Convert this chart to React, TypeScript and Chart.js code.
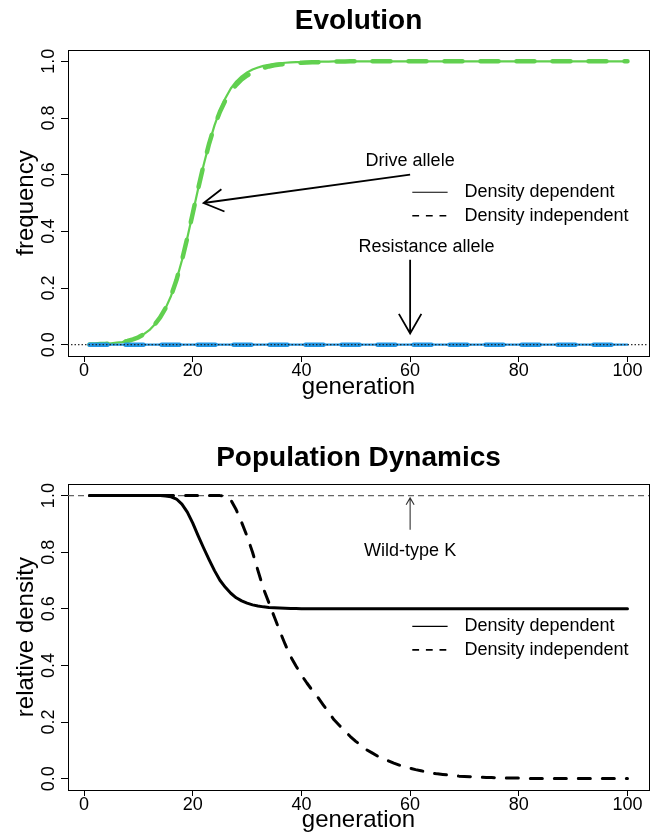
import { useEffect, useRef } from "react";
import { Chart, registerables } from "chart.js";

Chart.register(...registerables);

const FONT = "'Liberation Sans', Arial, Helvetica, sans-serif";
const GREEN = "#61D04F";
const BLUE = "#2297E6";

// Simulated generations
const generations = [
  1, 2, 3, 4, 5, 6, 7, 8, 9, 10, 11, 12, 13, 14, 15, 16, 17, 18, 19, 20,
  21, 22, 23, 24, 25, 26, 27, 28, 29, 30, 31, 32, 33, 34, 35, 36, 37, 38, 39, 40,
  41, 42, 43, 44, 45, 46, 47, 48, 49, 50, 51, 52, 53, 54, 55, 56, 57, 58, 59, 60,
  61, 62, 63, 64, 65, 66, 67, 68, 69, 70, 71, 72, 73, 74, 75, 76, 77, 78, 79, 80,
  81, 82, 83, 84, 85, 86, 87, 88, 89, 90, 91, 92, 93, 94, 95, 96, 97, 98, 99, 100,
];

// Drive allele frequency
const driveDensityDependent = [
  0.001, 0.001, 0.002, 0.003, 0.005, 0.007, 0.009, 0.013, 0.019, 0.026,
  0.037, 0.051, 0.071, 0.096, 0.129, 0.172, 0.228, 0.297, 0.377, 0.464,
  0.551, 0.634, 0.709, 0.774, 0.827, 0.87, 0.904, 0.929, 0.947, 0.961,
  0.971, 0.978, 0.984, 0.988, 0.991, 0.993, 0.995, 0.996, 0.997, 0.997,
  0.998, 0.998, 0.999, 0.999, 0.999, 1, 1, 1, 1, 1,
  1, 1, 1, 1, 1, 1, 1, 1, 1, 1,
  1, 1, 1, 1, 1, 1, 1, 1, 1, 1,
  1, 1, 1, 1, 1, 1, 1, 1, 1, 1,
  1, 1, 1, 1, 1, 1, 1, 1, 1, 1,
  1, 1, 1, 1, 1, 1, 1, 1, 1, 1,
];
const driveDensityIndependent = [
  0.001, 0.001, 0.002, 0.003, 0.005, 0.007, 0.009, 0.013, 0.019, 0.026,
  0.037, 0.051, 0.071, 0.096, 0.129, 0.172, 0.228, 0.297, 0.377, 0.464,
  0.551, 0.634, 0.709, 0.772, 0.822, 0.862, 0.893, 0.917, 0.936, 0.95,
  0.961, 0.97, 0.977, 0.982, 0.986, 0.989, 0.991, 0.993, 0.994, 0.995,
  0.996, 0.997, 0.997, 0.998, 0.998, 0.999, 0.999, 0.999, 1, 1,
  1, 1, 1, 1, 1, 1, 1, 1, 1, 1,
  1, 1, 1, 1, 1, 1, 1, 1, 1, 1,
  1, 1, 1, 1, 1, 1, 1, 1, 1, 1,
  1, 1, 1, 1, 1, 1, 1, 1, 1, 1,
  1, 1, 1, 1, 1, 1, 1, 1, 1, 1,
];

// Resistance allele frequency
const resistDensityDependent = [
  0, 0, 0, 0, 0, 0, 0, 0, 0, 0, 0, 0, 0, 0, 0, 0, 0, 0, 0, 0,
  0, 0, 0, 0, 0, 0, 0, 0, 0, 0, 0, 0, 0, 0, 0, 0, 0, 0, 0, 0,
  0, 0, 0, 0, 0, 0, 0, 0, 0, 0, 0, 0, 0, 0, 0, 0, 0, 0, 0, 0,
  0, 0, 0, 0, 0, 0, 0, 0, 0, 0, 0, 0, 0, 0, 0, 0, 0, 0, 0, 0,
  0, 0, 0, 0, 0, 0, 0, 0, 0, 0, 0, 0, 0, 0, 0, 0, 0, 0, 0, 0,
];
const resistDensityIndependent = [
  0, 0, 0, 0, 0, 0, 0, 0, 0, 0, 0, 0, 0, 0, 0, 0, 0, 0, 0, 0,
  0, 0, 0, 0, 0, 0, 0, 0, 0, 0, 0, 0, 0, 0, 0, 0, 0, 0, 0, 0,
  0, 0, 0, 0, 0, 0, 0, 0, 0, 0, 0, 0, 0, 0, 0, 0, 0, 0, 0, 0,
  0, 0, 0, 0, 0, 0, 0, 0, 0, 0, 0, 0, 0, 0, 0, 0, 0, 0, 0, 0,
  0, 0, 0, 0, 0, 0, 0, 0, 0, 0, 0, 0, 0, 0, 0, 0, 0, 0, 0, 0,
];

// Relative population density
const popDensityDependent = [
  1, 1, 1, 1, 1, 1, 1, 1, 1, 1,
  1, 1, 1, 1, 0.999, 0.996, 0.988, 0.97, 0.942, 0.903,
  0.858, 0.815, 0.774, 0.735, 0.701, 0.676, 0.655, 0.639, 0.628, 0.62,
  0.614, 0.61, 0.607, 0.605, 0.604, 0.603, 0.602, 0.601, 0.601, 0.6,
  0.6, 0.6, 0.6, 0.6, 0.6, 0.6, 0.6, 0.6, 0.6, 0.6,
  0.6, 0.6, 0.6, 0.6, 0.6, 0.6, 0.6, 0.6, 0.6, 0.6,
  0.6, 0.6, 0.6, 0.6, 0.6, 0.6, 0.6, 0.6, 0.6, 0.6,
  0.6, 0.6, 0.6, 0.6, 0.6, 0.6, 0.6, 0.6, 0.6, 0.6,
  0.6, 0.6, 0.6, 0.6, 0.6, 0.6, 0.6, 0.6, 0.6, 0.6,
  0.6, 0.6, 0.6, 0.6, 0.6, 0.6, 0.6, 0.6, 0.6, 0.6,
];
const popDensityIndependent = [
  1, 1, 1, 1, 1, 1, 1, 1, 1, 1,
  1, 1, 1, 1, 1, 1, 1, 1, 1, 1,
  1, 1, 1, 1, 1, 0.998, 0.985, 0.95, 0.905, 0.856,
  0.8, 0.735, 0.672, 0.622, 0.572, 0.522, 0.475, 0.432, 0.398, 0.366,
  0.338, 0.312, 0.288, 0.261, 0.234, 0.208, 0.188, 0.168, 0.149, 0.132,
  0.117, 0.102, 0.091, 0.08, 0.071, 0.063, 0.055, 0.048, 0.042, 0.037,
  0.032, 0.028, 0.024, 0.02, 0.017, 0.015, 0.013, 0.011, 0.009, 0.008,
  0.007, 0.006, 0.005, 0.004, 0.004, 0.003, 0.003, 0.002, 0.002, 0.002,
  0.001, 0.001, 0.001, 0.001, 0.001, 0.001, 0.001, 0.001, 0.001, 0.001,
  0.0005, 0.0005, 0.0005, 0.0005, 0.0005, 0.0005, 0.0005, 0.0005, 0.0005, 0.0005,
];

const xTicks = [0, 20, 40, 60, 80, 100];
const yTicks = [0, 0.2, 0.4, 0.6, 0.8, 1.0];
const yTickLabels = ["0.0", "0.2", "0.4", "0.6", "0.8", "1.0"];
const legendLabels = ["Density dependent", "Density independent"];

const toXY = (ys: number[]) => generations.map((g, i) => ({ x: g, y: ys[i] }));

function xScale(axisHeight: number, titlePad: number) {
  return {
    type: "linear" as const,
    min: -2.96,
    max: 103.96,
    afterBuildTicks: (s: any) => {
      s.ticks = xTicks.map((v) => ({ value: v }));
    },
    afterFit: (s: any) => {
      s.height = axisHeight;
    },
    grid: { drawOnChartArea: false, drawTicks: true, tickLength: 6, color: "#000", lineWidth: 1 },
    border: { display: false },
    ticks: {
      color: "#000",
      font: { family: FONT, size: 18, lineHeight: 1 },
      padding: 0,
      maxRotation: 0,
      autoSkip: false,
      callback: (v: any) => String(v),
    },
    title: {
      display: true,
      text: "generation",
      color: "#000",
      font: { family: FONT, size: 24, lineHeight: 1 },
      padding: { top: 0, bottom: titlePad },
    },
  };
}

function yScale(title: string) {
  return {
    type: "linear" as const,
    min: -0.04,
    max: 1.04,
    afterBuildTicks: (s: any) => {
      s.ticks = yTicks.map((v) => ({ value: v }));
    },
    afterFit: (s: any) => {
      s.width = 68;
    },
    grid: { drawOnChartArea: false, drawTicks: true, tickLength: 7, color: "#000", lineWidth: 1 },
    border: { display: false },
    ticks: { display: false },
    title: {
      display: true,
      text: title,
      color: "#000",
      font: { family: FONT, size: 24, lineHeight: 1 },
      padding: { top: 14.6, bottom: 0 },
    },
  };
}

function drawArrow(ctx: CanvasRenderingContext2D, x0: number, y0: number, x1: number, y1: number, head: number) {
  const a = Math.atan2(y1 - y0, x1 - x0);
  const s = Math.PI / 6;
  ctx.beginPath();
  ctx.moveTo(x0, y0);
  ctx.lineTo(x1, y1);
  ctx.moveTo(x1 - head * Math.cos(a - s), y1 - head * Math.sin(a - s));
  ctx.lineTo(x1, y1);
  ctx.lineTo(x1 - head * Math.cos(a + s), y1 - head * Math.sin(a + s));
  ctx.stroke();
}

// Plot box and rotated y tick labels
function drawFrame(chart: any) {
  const { ctx, chartArea } = chart;
  const ys = chart.scales.y;
  ctx.save();
  ctx.strokeStyle = "#000";
  ctx.lineWidth = 1;
  const l = Math.floor(chartArea.left) + 0.5;
  const t = Math.floor(chartArea.top) + 0.5;
  const r = Math.floor(chartArea.right) + 0.5;
  const b = Math.floor(chartArea.bottom) + 0.5;
  ctx.strokeRect(l, t, r - l, b - t);
  ctx.fillStyle = "#000";
  ctx.font = `18px ${FONT}`;
  ctx.textAlign = "center";
  ctx.textBaseline = "alphabetic";
  yTicks.forEach((v, i) => {
    ctx.save();
    ctx.translate(chartArea.left - 14.5, ys.getPixelForValue(v));
    ctx.rotate(-Math.PI / 2);
    ctx.fillText(yTickLabels[i], 0, 0);
    ctx.restore();
  });
  ctx.restore();
}

function drawLegend(chart: any) {
  const { ctx } = chart;
  const xs = chart.scales.x;
  const ys = chart.scales.y;
  const x0 = xs.getPixelForValue(60.4);
  const x1 = xs.getPixelForValue(66.9);
  const tx = xs.getPixelForValue(70);
  const rows = [0.538, 0.455];
  ctx.save();
  ctx.strokeStyle = "#000";
  ctx.fillStyle = "#000";
  ctx.font = `18px ${FONT}`;
  ctx.textAlign = "left";
  ctx.textBaseline = "middle";
  rows.forEach((rv, i) => {
    const y = ys.getPixelForValue(rv);
    ctx.beginPath();
    if (i === 0) {
      ctx.lineWidth = 1.1;
      ctx.setLineDash([]);
    } else {
      ctx.lineWidth = 1.7;
      ctx.setLineDash([6.8, 6.8]);
    }
    ctx.moveTo(x0, y);
    ctx.lineTo(x1, y);
    ctx.stroke();
    ctx.setLineDash([]);
    ctx.fillText(legendLabels[i], tx, y);
  });
  ctx.restore();
}

const evolutionDecor = {
  id: "evolutionDecor",
  beforeDatasetsDraw(chart: any) {
    drawFrame(chart);
  },
  afterDatasetsDraw(chart: any) {
    const { ctx, chartArea } = chart;
    const xs = chart.scales.x;
    const ys = chart.scales.y;
    ctx.save();
    // zero reference line
    const y0 = ys.getPixelForValue(0);
    ctx.strokeStyle = "#222";
    ctx.lineWidth = 1.2;
    ctx.lineCap = "round";
    ctx.setLineDash([0.5, 3]);
    ctx.beginPath();
    ctx.moveTo(chartArea.left, y0);
    ctx.lineTo(chartArea.right, y0);
    ctx.stroke();
    ctx.setLineDash([]);
    ctx.lineCap = "butt";
    // annotations
    ctx.strokeStyle = "#000";
    ctx.lineWidth = 1.8;
    drawArrow(ctx, xs.getPixelForValue(60), ys.getPixelForValue(0.6), xs.getPixelForValue(22), ys.getPixelForValue(0.5), 22.5);
    drawArrow(ctx, xs.getPixelForValue(60), ys.getPixelForValue(0.3), xs.getPixelForValue(60), ys.getPixelForValue(0.04), 22.5);
    ctx.fillStyle = "#000";
    ctx.font = `18px ${FONT}`;
    ctx.textAlign = "center";
    ctx.textBaseline = "middle";
    ctx.fillText("Drive allele", xs.getPixelForValue(60), ys.getPixelForValue(0.648));
    ctx.fillText("Resistance allele", xs.getPixelForValue(63), ys.getPixelForValue(0.345));
    ctx.restore();
    drawLegend(chart);
  },
};

const populationDecor = {
  id: "populationDecor",
  beforeDatasetsDraw(chart: any) {
    drawFrame(chart);
    const { ctx, chartArea } = chart;
    const ys = chart.scales.y;
    const y1 = ys.getPixelForValue(1);
    ctx.save();
    ctx.strokeStyle = "#666";
    ctx.lineWidth = 1.2;
    ctx.setLineDash([6, 4]);
    ctx.beginPath();
    ctx.moveTo(chartArea.left, y1);
    ctx.lineTo(chartArea.right, y1);
    ctx.stroke();
    ctx.restore();
  },
  afterDatasetsDraw(chart: any) {
    const { ctx } = chart;
    const xs = chart.scales.x;
    const ys = chart.scales.y;
    ctx.save();
    ctx.strokeStyle = "#333";
    ctx.lineWidth = 1.1;
    drawArrow(ctx, xs.getPixelForValue(60), ys.getPixelForValue(0.879), xs.getPixelForValue(60), ys.getPixelForValue(0.992), 8);
    ctx.fillStyle = "#000";
    ctx.font = `18px ${FONT}`;
    ctx.textAlign = "center";
    ctx.textBaseline = "middle";
    ctx.fillText("Wild-type K", xs.getPixelForValue(60), ys.getPixelForValue(0.805));
    ctx.restore();
    drawLegend(chart);
  },
};

function titleOpts(text: string, top: number, bottom: number) {
  return {
    display: true,
    text,
    fullSize: false,
    color: "#000",
    font: { family: FONT, size: 28, weight: "bold" as const, lineHeight: 1.2 },
    padding: { top, bottom },
  };
}

const lineBase = {
  pointRadius: 0,
  pointHoverRadius: 0,
  tension: 0,
  fill: false,
  borderCapStyle: "round" as const,
  borderJoinStyle: "round" as const,
};

export default function App() {
  const topRef = useRef<HTMLCanvasElement>(null);
  const bottomRef = useRef<HTMLCanvasElement>(null);

  useEffect(() => {
    const top = new Chart(topRef.current!, {
      type: "line",
      data: {
        datasets: [
          { ...lineBase, label: "Drive, density dependent", data: toXY(driveDensityDependent), borderColor: GREEN, borderWidth: 2.2, order: 4 },
          { ...lineBase, label: "Drive, density independent", data: toXY(driveDensityIndependent), borderColor: GREEN, borderWidth: 4.5, borderDash: [18, 18], order: 3 },
          { ...lineBase, label: "Resistance, density dependent", data: toXY(resistDensityDependent), borderColor: BLUE, borderWidth: 2.2, order: 2 },
          { ...lineBase, label: "Resistance, density independent", data: toXY(resistDensityIndependent), borderColor: BLUE, borderWidth: 4.5, borderDash: [18, 18], order: 1 },
        ],
      },
      options: {
        responsive: false,
        animation: false,
        devicePixelRatio: 1,
        layout: { padding: { left: 0, right: 2, top: 0, bottom: 0 } },
        scales: { x: xScale(49, 5.9), y: yScale("frequency") },
        plugins: {
          legend: { display: false },
          tooltip: { enabled: false },
          title: titleOpts("Evolution", 4, 12.4),
        },
      },
      plugins: [evolutionDecor],
    });

    const bottom = new Chart(bottomRef.current!, {
      type: "line",
      data: {
        datasets: [
          { ...lineBase, label: "Density dependent", data: toXY(popDensityDependent), borderColor: "#000", borderWidth: 3, order: 2 },
          { ...lineBase, label: "Density independent", data: toXY(popDensityIndependent), borderColor: "#000", borderWidth: 3, borderDash: [12, 12], order: 1 },
        ],
      },
      options: {
        responsive: false,
        animation: false,
        devicePixelRatio: 1,
        layout: { padding: { left: 0, right: 2, top: 0, bottom: 0 } },
        scales: { x: xScale(44, 2.1), y: yScale("relative density") },
        plugins: {
          legend: { display: false },
          tooltip: { enabled: false },
          title: titleOpts("Population Dynamics", 36.2, 9.5),
        },
      },
      plugins: [populationDecor],
    });

    return () => {
      top.destroy();
      bottom.destroy();
    };
  }, []);

  return (
    <div style={{ position: "absolute", left: 0, top: 0, width: 651, height: 834, background: "#fff" }}>
      <canvas ref={topRef} width={651} height={405} style={{ display: "block" }} />
      <canvas ref={bottomRef} width={651} height={429} style={{ display: "block" }} />
    </div>
  );
}
